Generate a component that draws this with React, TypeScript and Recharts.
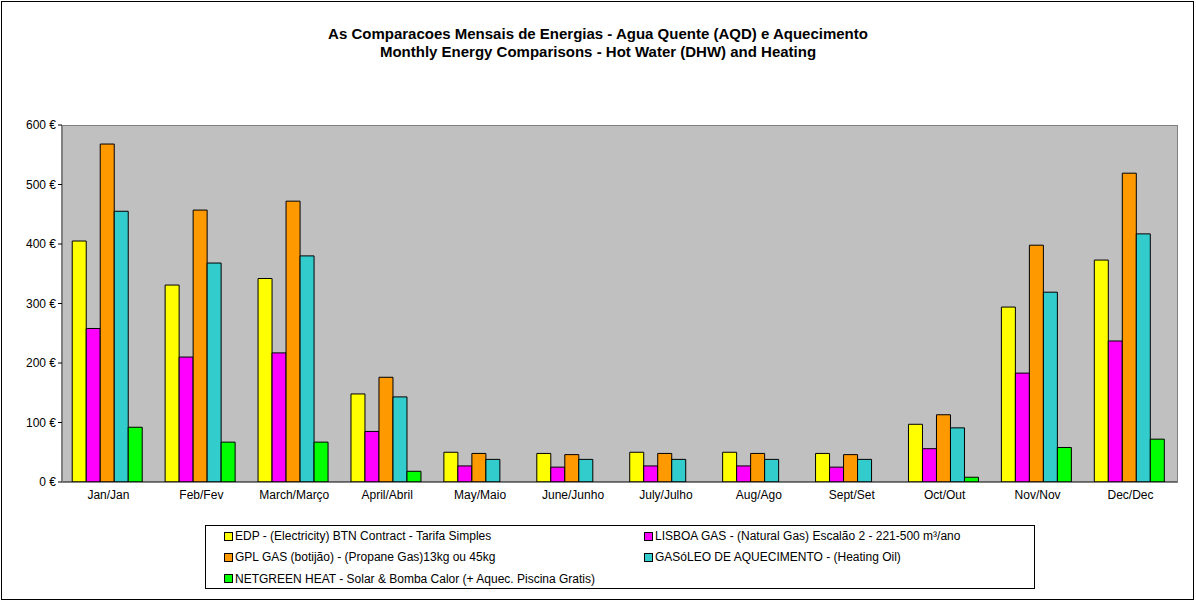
import { BarChart, Bar, XAxis, YAxis, CartesianGrid } from 'recharts';

const months = ['Jan/Jan', 'Feb/Fev', 'March/Março', 'April/Abril', 'May/Maio', 'June/Junho', 'July/Julho', 'Aug/Ago', 'Sept/Set', 'Oct/Out', 'Nov/Nov', 'Dec/Dec'];
const edp = [405, 331, 342, 148, 50, 48, 50, 50, 48, 97, 294, 373];
const lisboa = [258, 210, 217, 85, 27, 25, 27, 27, 25, 56, 183, 237];
const gpl = [568, 457, 472, 176, 48, 46, 48, 48, 46, 113, 398, 519];
const gasoleo = [455, 368, 380, 143, 38, 38, 38, 38, 38, 91, 319, 417];
const netgreen = [92, 67, 67, 18, 0, 0, 0, 0, 0, 8, 58, 72];
const yTicks = [0, 100, 200, 300, 400, 500, 600];

const series = [
  { key: 'edp', color: '#ffff00', label: 'EDP - (Electricity) BTN Contract - Tarifa Simples' },
  { key: 'lisboa', color: '#ff00ff', label: 'LISBOA GAS - (Natural Gas) Escalão 2 - 221-500 m³/ano' },
  { key: 'gpl', color: '#ff9900', label: 'GPL GAS (botijão)  - (Propane Gas)13kg ou 45kg' },
  { key: 'gasoleo', color: '#33cccc', label: 'GASóLEO DE AQUECIMENTO - (Heating Oil)' },
  { key: 'netgreen', color: '#00ff00', label: 'NETGREEN HEAT  - Solar & Bomba Calor (+ Aquec. Piscina Gratis)' },
];

const data = months.map((m, i) => ({
  month: m, edp: edp[i], lisboa: lisboa[i], gpl: gpl[i], gasoleo: gasoleo[i], netgreen: netgreen[i],
}));

const font = '"Liberation Sans", Arial, sans-serif';

export default function App() {
  return (
    <div style={{ position: 'absolute', left: 0, top: 0, width: 1196, height: 602, background: '#fff', fontFamily: font }}>
      <div style={{ position: 'absolute', left: 1, top: 1, width: 1191, height: 597, border: '1px solid #000' }} />
      <div style={{ position: 'absolute', top: 25, width: 1196, textAlign: 'center', fontWeight: 'bold', fontSize: 15, lineHeight: '18px' }}>
        As Comparacoes Mensais de Energias - Agua Quente (AQD) e Aquecimento<br />
        Monthly Energy Comparisons - Hot Water (DHW) and Heating
      </div>
      <div style={{ position: 'absolute' }}>
        <BarChart width={1196} height={602} data={data} margin={{ top: 125, right: 19, bottom: 90, left: 0 }}
          barCategoryGap="11%" barGap={0}>
          <CartesianGrid fill="#c0c0c0" horizontal={false} vertical={false} />
          <XAxis dataKey="month" height={30} tick={{ fontSize: 12, fill: '#000', fontFamily: font }}
            stroke="#000" tickLine={false} interval={0} />
          <YAxis width={62} domain={[0, 600]} ticks={yTicks} tickFormatter={(v) => `${v} €`}
            tick={{ fontSize: 12, fill: '#000', fontFamily: font }} stroke="#000" tickSize={4} />
          {series.map((s) => (
            <Bar key={s.key} dataKey={s.key} fill={s.color} stroke="#000" strokeWidth={1} isAnimationActive={false} />
          ))}
        </BarChart>
      </div>
      <div style={{ position: 'absolute', left: 62, top: 125, width: 1114, height: 356, border: '1px solid #808080', pointerEvents: 'none' }} />
      <div style={{ position: 'absolute', left: 205, top: 525, width: 830, height: 64, border: '1px solid #000', fontSize: 12, display: 'grid', gridTemplateColumns: '420px 410px', padding: '3px 0 0 18px', boxSizing: 'border-box', rowGap: 5 }}>
        {series.map((s) => (
          <div key={s.key} style={{ display: 'flex', alignItems: 'center', height: 14 }}>
            <span style={{ width: 7, height: 7, background: s.color, border: '1px solid #000', marginRight: 2 }} />
            {s.label}
          </div>
        ))}
      </div>
    </div>
  );
}
